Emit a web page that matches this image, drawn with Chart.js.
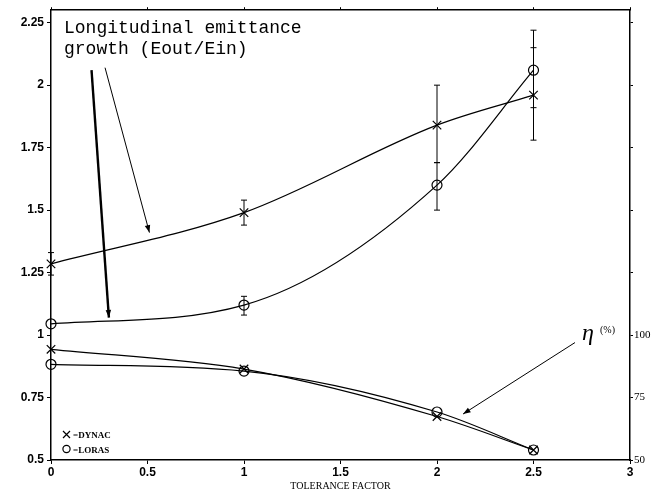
<!DOCTYPE html>
<html><head><meta charset="utf-8">
<script src="https://cdn.jsdelivr.net/npm/chart.js@4/dist/chart.umd.min.js"></script>
<style>html,body{margin:0;padding:0;background:#fff}#c{display:block}</style>
</head><body>
<canvas id="c" width="653" height="493"></canvas>
<script>
// ---- data ----
const tolerance = [0, 1, 2, 2.5];
const dynacEmit   = [1.285, 1.49, 1.84, 1.96];
const dynacEmitLo = [1.24, 1.44, 1.69, 1.78];
const dynacEmitHi = [1.33, 1.54, 2.00, 2.15];
const lorasEmit   = [1.045, 1.12, 1.60, 2.06];
const lorasEmitLo = [1.045, 1.08, 1.50, 1.91];
const lorasEmitHi = [1.045, 1.155, 1.69, 2.22];
const dynacEff = [94.3, 86.4, 67.4, 54.0];   // percent (right axis)
const lorasEff = [88.3, 85.6, 69.2, 54.0];
const xTickValues = [0, 0.5, 1, 1.5, 2, 2.5, 3];
const leftTickValues = [0.5, 0.75, 1, 1.25, 1.5, 1.75, 2, 2.25];
const rightTickValues = [50, 75, 100, 125, 150, 175, 200, 225];
const rightTickLabels = [50, 75, 100];

const pts = (xs, ys) => xs.map((x, i) => ({x, y: ys[i]}));
const fmt = v => String(+v.toFixed(2));

const errorBars = [
  {lo: dynacEmitLo, hi: dynacEmitHi},
  {lo: lorasEmitLo, hi: lorasEmitHi}
];

// annotation arrows in data coordinates
const arrows = [
  {from: [0.21, 2.06], to: [0.30, 1.07], w: 2.4},
  {from: [0.28, 2.07], to: [0.51, 1.41], w: 1},
  {from: [2.715, 0.97], to: [2.135, 0.684], w: 1}
];

const plugin = {
  id: 'extras',
  afterDatasetsDraw(chart) {
    const ctx = chart.ctx, xs = chart.scales.x, ys = chart.scales.y;
    ctx.save();
    ctx.strokeStyle = '#000';
    ctx.lineWidth = 1;
    errorBars.forEach(eb => {
      tolerance.forEach((t, i) => {
        if (eb.lo[i] === eb.hi[i]) return;
        const px = xs.getPixelForValue(t);
        const y1 = ys.getPixelForValue(eb.lo[i]);
        const y2 = ys.getPixelForValue(eb.hi[i]);
        ctx.beginPath();
        ctx.moveTo(px, y1); ctx.lineTo(px, y2);
        ctx.moveTo(px - 3, y1); ctx.lineTo(px + 3, y1);
        ctx.moveTo(px - 3, y2); ctx.lineTo(px + 3, y2);
        ctx.stroke();
      });
    });
    arrows.forEach(a => {
      const x1 = xs.getPixelForValue(a.from[0]), y1 = ys.getPixelForValue(a.from[1]);
      const x2 = xs.getPixelForValue(a.to[0]), y2 = ys.getPixelForValue(a.to[1]);
      const ang = Math.atan2(y2 - y1, x2 - x1);
      ctx.lineWidth = a.w;
      ctx.beginPath(); ctx.moveTo(x1, y1); ctx.lineTo(x2, y2); ctx.stroke();
      const L = 8, H = 0.35;
      ctx.beginPath();
      ctx.moveTo(x2, y2);
      ctx.lineTo(x2 - L * Math.cos(ang - H), y2 - L * Math.sin(ang - H));
      ctx.lineTo(x2 - L * Math.cos(ang + H), y2 - L * Math.sin(ang + H));
      ctx.closePath();
      ctx.fillStyle = '#000';
      ctx.fill();
    });
    ctx.fillStyle = '#000';
    ctx.textBaseline = 'alphabetic';
    ctx.textAlign = 'left';
    ctx.font = '18px "Liberation Mono", "DejaVu Sans Mono", monospace';
    ctx.fillText('Longitudinal emittance', 64, 33);
    ctx.fillText('growth (Eout/Ein)', 64, 54);
    ctx.font = 'italic 24px "Liberation Serif", serif';
    ctx.fillText('η', 582, 340);
    ctx.font = '10px "Liberation Serif", serif';
    ctx.fillText('(%)', 600, 333);
    ctx.lineWidth = 1.2;
    ctx.beginPath();
    ctx.moveTo(63, 431); ctx.lineTo(70, 438);
    ctx.moveTo(70, 431); ctx.lineTo(63, 438);
    ctx.stroke();
    ctx.beginPath();
    ctx.arc(66.5, 449, 3.6, 0, Math.PI * 2);
    ctx.stroke();
    ctx.font = 'bold 9px "Liberation Serif", serif';
    ctx.fillText('=DYNAC', 73, 438);
    ctx.fillText('=LORAS', 73, 453);
    ctx.restore();
  }
};

const baseLine = {
  borderColor: '#000', borderWidth: 1.2, backgroundColor: 'rgba(0,0,0,0)',
  pointBorderColor: '#000', pointBackgroundColor: 'rgba(0,0,0,0)',
  pointRadius: 5, pointBorderWidth: 1.2, cubicInterpolationMode: 'monotone',
  fill: false, showLine: true, clip: false
};

new Chart(document.getElementById('c'), {
  type: 'scatter',
  data: {
    datasets: [
      {...baseLine, label: 'DYNAC emittance', data: pts(tolerance, dynacEmit), pointStyle: 'crossRot', pointRadius: 6, yAxisID: 'y'},
      {...baseLine, label: 'LORAS emittance', data: pts(tolerance, lorasEmit), pointStyle: 'circle', yAxisID: 'y'},
      {...baseLine, label: 'DYNAC efficiency', data: pts(tolerance, dynacEff), pointStyle: 'crossRot', pointRadius: 6, yAxisID: 'y2'},
      {...baseLine, label: 'LORAS efficiency', data: pts(tolerance, lorasEff), pointStyle: 'circle', yAxisID: 'y2'}
    ]
  },
  options: {
    responsive: false, animation: false,
    layout: {padding: 0},
    plugins: {legend: {display: false}, tooltip: {enabled: false}},
    scales: {
      x: {
        type: 'linear', position: 'bottom', min: 0, max: 3,
        afterBuildTicks: s => { s.ticks = xTickValues.map(v => ({value: v})); },
        afterFit: s => { s.height = 33; },
        ticks: {callback: v => fmt(v), color: '#000', padding: 1, maxRotation: 0,
                font: {family: '"Liberation Sans", sans-serif', size: 12, weight: 'bold'}},
        grid: {drawOnChartArea: false, color: '#000', tickLength: 4},
        border: {color: '#000', width: 1.5},
        title: {display: true, text: 'TOLERANCE FACTOR', color: '#000', padding: {top: 0, bottom: 1},
                font: {family: '"Liberation Serif", serif', size: 10}}
      },
      xTop: {
        type: 'linear', position: 'top', min: 0, max: 3,
        afterBuildTicks: s => { s.ticks = xTickValues.map(v => ({value: v})); },
        afterFit: s => { s.height = 10; },
        ticks: {display: false},
        grid: {drawOnChartArea: false, color: '#000', tickLength: 3},
        border: {color: '#000', width: 1.5}
      },
      y: {
        type: 'linear', position: 'left', min: 0.5, max: 2.3,
        afterBuildTicks: s => { s.ticks = leftTickValues.map(v => ({value: v})); },
        afterFit: s => { s.width = 51; },
        ticks: {callback: v => fmt(v), color: '#000', padding: 3,
                font: {family: '"Liberation Sans", sans-serif', size: 12, weight: 'bold'}},
        grid: {drawOnChartArea: false, color: '#000', tickLength: 4},
        border: {color: '#000', width: 1.5}
      },
      y2: {
        type: 'linear', position: 'right', min: 50, max: 230,
        afterBuildTicks: s => { s.ticks = rightTickValues.map(v => ({value: v})); },
        afterFit: s => { s.width = 23; },
        ticks: {callback: v => rightTickLabels.includes(v) ? String(v) : '', color: '#000', padding: 1,
                font: {family: '"Liberation Serif", serif', size: 11}},
        grid: {drawOnChartArea: false, color: '#000', tickLength: 3},
        border: {color: '#000', width: 1.5}
      }
    }
  },
  plugins: [plugin]
});
</script>
</body></html>
